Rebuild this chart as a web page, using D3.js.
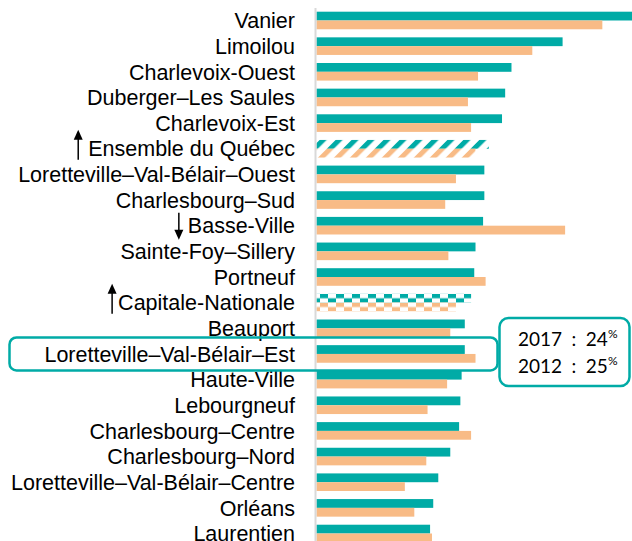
<!DOCTYPE html>
<html>
<head>
<meta charset="utf-8">
<script src="https://cdn.jsdelivr.net/npm/d3@7"></script>
<style>
  body { margin: 0; background: #fff; }
  svg { display: block; }
</style>
</head>
<body>
<div id="chart"></div>
<script>
// share (%) by territory, 2017 vs 2012
const categories = [
  "Vanier", "Limoilou", "Charlevoix-Ouest", "Duberger–Les Saules", "Charlevoix-Est",
  "Ensemble du Québec", "Loretteville–Val-Bélair–Ouest", "Charlesbourg–Sud", "Basse-Ville",
  "Sainte-Foy–Sillery", "Portneuf", "Capitale-Nationale", "Beauport",
  "Loretteville–Val-Bélair–Est", "Haute-Ville", "Lebourgneuf", "Charlesbourg–Centre",
  "Charlesbourg–Nord", "Loretteville–Val-Bélair–Centre", "Orléans", "Laurentien"
];
const values2017 = [51, 39.0, 30.9, 29.9, 29.4, 27.3, 26.6, 26.6, 26.4, 25.2, 25.0, 24.5, 23.5,
  23.5, 23.0, 22.8, 22.6, 21.2, 19.3, 18.5, 18.0];
const values2012 = [45.3, 34.2, 25.6, 24.0, 24.5, 25.2, 22.1, 20.4, 39.4, 20.9, 26.8, 22.1, 21.2,
  25.2, 20.7, 17.6, 24.5, 17.4, 14.0, 15.5, 18.3];
const series = ["2017", "2012"];

// reference rows get a pattern instead of a solid fill
const patterned = { "Ensemble du Québec": "stripe", "Capitale-Nationale": "check" };
// significant change markers
const arrows = [
  { category: "Ensemble du Québec", dir: "up" },
  { category: "Basse-Ville", dir: "down" },
  { category: "Capitale-Nationale", dir: "up" }
];
const highlighted = "Loretteville–Val-Bélair–Est";
const noteYears = ["2017", "2012"];
const noteValues = [24, 25];

const width = 632, height = 541;
const teal = "#00aba6", orange = "#f8bb86";
const colors = { "2017": teal, "2012": orange };
const arrowGap = { "Ensemble du Québec": 10, "Basse-Ville": 9, "Capitale-Nationale": 6 };

const svg = d3.select("#chart").append("svg")
  .attr("width", width)
  .attr("height", height);

const defs = svg.append("defs");
series.forEach(s => {
  const st = defs.append("pattern")
    .attr("id", "stripe-" + s)
    .attr("patternUnits", "userSpaceOnUse")
    .attr("width", 11.3).attr("height", 11.3)
    .attr("patternTransform", "rotate(45)");
  st.append("rect").attr("width", 11.3).attr("height", 11.3).attr("fill", "#fff");
  st.append("rect").attr("width", 5).attr("height", 11.3).attr("fill", colors[s]);

  const ck = defs.append("pattern")
    .attr("id", "check-" + s)
    .attr("patternUnits", "userSpaceOnUse")
    .attr("width", 16).attr("height", 8.8);
  ck.append("rect").attr("width", 16).attr("height", 8.8).attr("fill", "#fff");
  ck.append("rect").attr("x", 0).attr("y", 0).attr("width", 8).attr("height", 4.4).attr("fill", colors[s]);
  ck.append("rect").attr("x", 8).attr("y", 4.4).attr("width", 8).attr("height", 4.4).attr("fill", colors[s]);
});

const x = d3.scaleLinear().domain([0, 50]).range([316.5, 632]);
const y = d3.scaleBand().domain(categories).range([8, 546]).paddingInner(0.314).paddingOuter(0.144);
const ySub = d3.scaleBand().domain(series).range([0, y.bandwidth()]);

const rows = categories.map((c, i) => ({ category: c, "2017": values2017[i], "2012": values2012[i] }));

const groups = svg.selectAll(".row").data(rows).enter()
  .append("g")
  .attr("class", "row")
  .attr("transform", d => `translate(0,${y(d.category)})`);

groups.selectAll("rect").data(d => series.map(s => ({ category: d.category, key: s, value: d[s] })))
  .enter().append("rect")
  .attr("x", x(0))
  .attr("y", d => ySub(d.key))
  .attr("width", d => x(d.value) - x(0))
  .attr("height", ySub.bandwidth())
  .attr("fill", d => patterned[d.category] ? `url(#${patterned[d.category]}-${d.key})` : colors[d.key]);

// vertical baseline
svg.append("line")
  .attr("x1", 315.5).attr("x2", 315.5)
  .attr("y1", 8).attr("y2", height)
  .attr("stroke", "#d9d9d9").attr("stroke-width", 2);

// category labels
const labels = svg.selectAll(".label").data(categories).enter()
  .append("text")
  .attr("class", "label")
  .attr("x", 295)
  .attr("y", d => y(d) + y.bandwidth() / 2)
  .attr("dy", "0.36em")
  .attr("text-anchor", "end")
  .style("font-family", "'Liberation Sans', Arial, sans-serif")
  .style("font-size", "21.5px")
  .style("fill", "#000")
  .text(d => d);

// arrows next to labels
arrows.forEach(a => {
  const node = labels.filter(d => d === a.category).node();
  const bb = node.getBBox();
  const cx = bb.x - arrowGap[a.category];
  const cy = y(a.category) + y.bandwidth() / 2;
  const top = a.dir === "up" ? cy - 19 : cy - 13;
  const bottom = a.dir === "up" ? cy + 11 : cy + 14;
  const g = svg.append("g");
  if (a.dir === "up") {
    g.append("line").attr("x1", cx).attr("x2", cx).attr("y1", top + 8).attr("y2", bottom)
      .attr("stroke", "#000").attr("stroke-width", 1.5);
    g.append("path").attr("d", `M${cx},${top} L${cx - 4.5},${top + 10} L${cx + 4.5},${top + 10} Z`).attr("fill", "#000");
  } else {
    g.append("line").attr("x1", cx).attr("x2", cx).attr("y1", top).attr("y2", bottom - 8)
      .attr("stroke", "#000").attr("stroke-width", 1.5);
    g.append("path").attr("d", `M${cx},${bottom} L${cx - 4.5},${bottom - 10} L${cx + 4.5},${bottom - 10} Z`).attr("fill", "#000");
  }
});

// highlight box around the selected territory
const hy = y(highlighted) + y.bandwidth() / 2;
svg.append("rect")
  .attr("x", 9.5).attr("y", hy - 16.5)
  .attr("width", 488).attr("height", 33)
  .attr("rx", 7)
  .attr("fill", "none")
  .attr("stroke", teal).attr("stroke-width", 2.5);

// note box with values
svg.append("rect")
  .attr("x", 499.5).attr("y", hy - 36)
  .attr("width", 130).attr("height", 68)
  .attr("rx", 9)
  .attr("fill", "#fff")
  .attr("stroke", teal).attr("stroke-width", 2.5);

noteYears.forEach((yr, i) => {
  const t = svg.append("text")
    .attr("x", 518)
    .attr("y", hy - 8 + i * 27)
    .style("font-family", "Lato, 'Open Sans', sans-serif")
    .style("font-size", "19px")
    .style("fill", "#000");
  t.append("tspan").text(`${yr}\u2002:\u2002${noteValues[i]}`);
  t.append("tspan").attr("dy", -8).style("font-size", "12px").text("%");
});
</script>
</body>
</html>
